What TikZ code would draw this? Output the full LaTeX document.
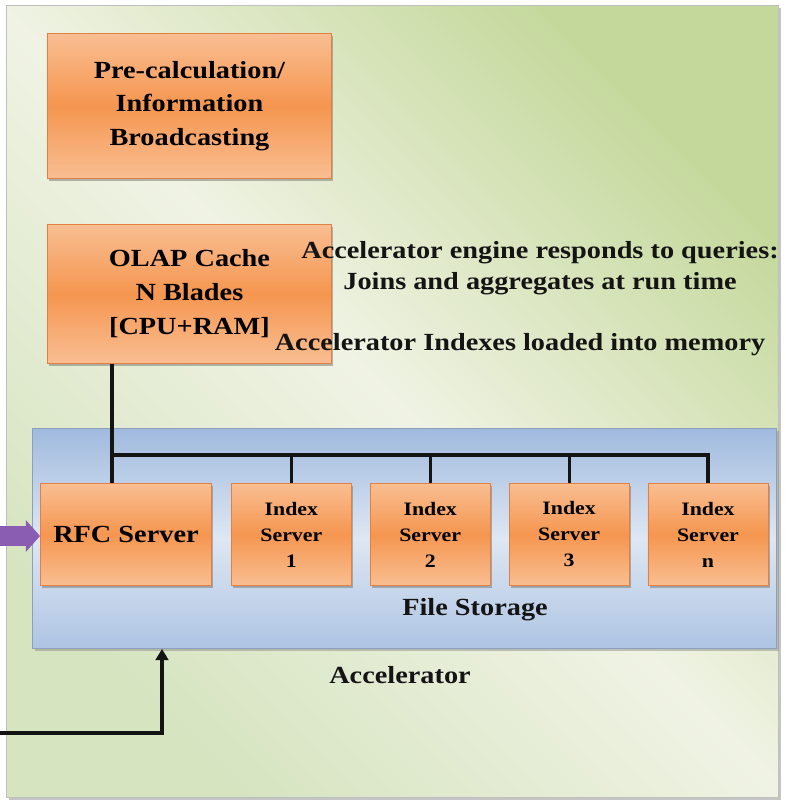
\documentclass[tikz,border=0pt]{standalone}
\usepackage{fontspec}
\setmainfont{Liberation Serif}[FakeStretch=1.15]
\usepackage{tikz}
\usetikzlibrary{arrows.meta, positioning, calc, shadows}
\definecolor{orpale}{RGB}{249,190,146}
\definecolor{ormid}{RGB}{245,150,80}
\definecolor{oredge}{RGB}{226,128,66}
\definecolor{bggreen}{RGB}{196,216,155}
\definecolor{bgpale}{RGB}{240,243,228}
\definecolor{bgleft}{RGB}{214,228,192}
\definecolor{bluetop}{RGB}{160,186,222}
\definecolor{bluemid}{RGB}{222,231,243}
\definecolor{blueedge}{RGB}{140,160,190}
\definecolor{mypurple}{RGB}{138,92,178}
\definecolor{mydark}{RGB}{20,20,20}
\tikzset{
  panel/.style={rectangle, draw=#1, line width=0.6pt, anchor=north west,
    drop shadow={shadow xshift=1.5pt, shadow yshift=-1.5pt, fill=black!45, opacity=0.5}},
  orangebox/.style={rectangle, draw=oredge, line width=0.6pt,
    top color=orpale, bottom color=orpale, middle color=ormid,
    align=center, anchor=north west, inner sep=0pt,
    font=\bfseries\fontsize{17.5}{24}\selectfont,
    drop shadow={shadow xshift=1.2pt, shadow yshift=-1.6pt, fill=black!60, opacity=0.45}},
  indexbox/.style={orangebox, minimum width=3cm, minimum height=2.55cm,
    anchor=north west, font=\bfseries\fontsize{13.5}{18.5}\selectfont},
  label/.style={font=\bfseries\fontsize{17.5}{22}\selectfont, align=center, text=mydark},
  busline/.style={line width=2.2pt, color=mydark},
  arrow/.style={-{Triangle[length=8pt, width=9pt]}, line width=2.2pt, color=mydark},
  purparrow/.style={-{Triangle[length=10pt, width=22pt]}, line width=14pt, color=mypurple}
}
\begin{document}
\begin{tikzpicture}[x=0.025cm, y=-0.025cm]
  \useasboundingbox (0,0) rectangle (786,800);
  % Background panels
  \node[panel=black!25, minimum width=19.3cm, minimum height=19.8cm,
    top color=bggreen, bottom color=bgleft, middle color=bgpale, shading angle=-45] (accel) at (6,5) {};
  \node[panel=blueedge, minimum width=18.6cm, minimum height=5.5cm,
    top color=bluetop, bottom color=bluetop!85, middle color=bluemid] (storage) at (32,428) {};
  % Upper blocks
  \node[orangebox, minimum width=7.1cm, minimum height=3.625cm] (precalc) at (47,33)
    {Pre-calculation/\\Information\\Broadcasting};
  \node[orangebox, minimum width=7.1cm, minimum height=3.475cm, below=1.125cm of precalc.south west, anchor=north west] (olap)
    {OLAP Cache\\N Blades\\{[CPU+RAM]}};
  % Servers
  \node[orangebox, minimum width=4.275cm, minimum height=2.55cm] (rfc) at (40,483) {RFC Server};
  \node[indexbox, right=0.475cm of rfc.north east, anchor=north west] (idx1) {Index\\Server\\1};
  \node[indexbox, right=0.45cm of idx1.north east, anchor=north west] (idx2) {Index\\Server\\2};
  \node[indexbox, right=0.45cm of idx2.north east, anchor=north west] (idx3) {Index\\Server\\3};
  \node[indexbox, right=0.45cm of idx3.north east, anchor=north west] (idxn) {Index\\Server\\n};
  % Texts
  \node[label] (engine) at (540,268) {Accelerator engine responds to queries:\\Joins and aggregates at run time};
  \node[label] (indexes) at (520,345) {Accelerator Indexes loaded into memory};
  \node[label] (files) at (475,610) {File Storage};
  \node[label] (acclbl) at (400,675) {Accelerator};
  % Bus
  \coordinate (bus) at (112,455);
  \draw[busline] (olap.south -| bus) -- (rfc.north -| bus);
  \draw[busline] (bus) -| (idxn.north);
  \draw[busline] (idx1.north) -- (idx1.north |- bus);
  \draw[busline] (idx2.north) -- (idx2.north |- bus);
  \draw[busline] (idx3.north) -- (idx3.north |- bus);
  % Inputs
  \coordinate (feed) at (0,536);
  \draw[purparrow] (feed) -- (feed -| rfc.west);
  \coordinate (load) at (0,733);
  \coordinate (loadup) at (162,733);
  \draw[arrow, line join=miter] (load) -- (loadup) -- (loadup |- storage.south);
\end{tikzpicture}
\end{document}
